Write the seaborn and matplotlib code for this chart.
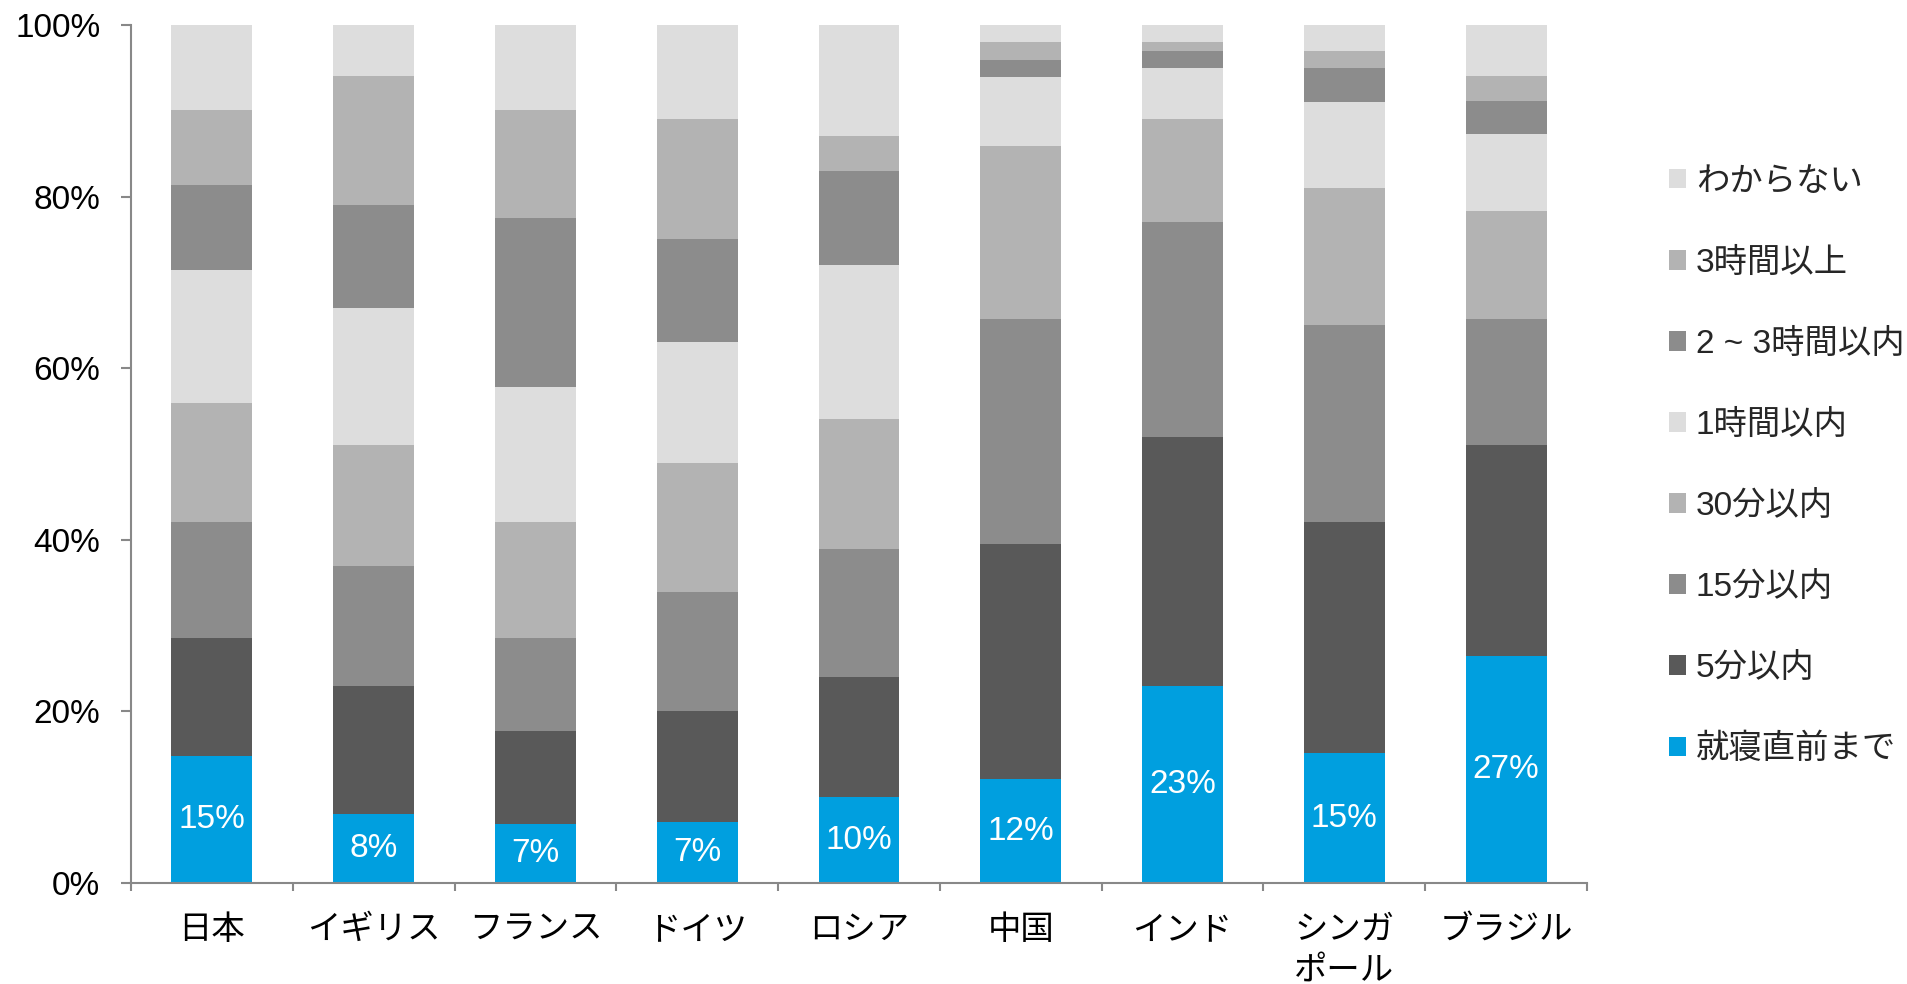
import numpy as np
import pandas as pd
import matplotlib
matplotlib.use("Agg")
import matplotlib.pyplot as plt
import seaborn as sns

countries = ['日本', 'イギリス', 'フランス', 'ドイツ', 'ロシア', '中国', 'インド', 'シンガ\nポール', 'ブラジル']
categories = ['就寝直前まで', '5分以内', '15分以内', '30分以内', '1時間以内', '2 ~ 3時間以内', '3時間以上', 'わからない']

s_before  = [14.8, 8.0, 6.9, 7.1, 10.0, 12.1, 23.0, 15.1, 26.5]
s_5min    = [13.7, 15.0, 10.8, 12.9, 14.0, 27.4, 29.0, 27.0, 24.5]
s_15min   = [13.6, 14.0, 10.8, 13.9, 14.9, 26.2, 25.0, 22.9, 14.7]
s_30min   = [13.8, 14.0, 13.6, 15.0, 15.2, 20.2, 12.0, 16.0, 12.6]
s_1h      = [15.6, 16.0, 15.7, 14.1, 17.9, 8.0, 6.0, 10.0, 9.0]
s_2_3h    = [9.8, 12.0, 19.7, 12.1, 11.0, 2.0, 2.0, 4.0, 3.8]
s_3h_plus = [8.8, 15.0, 12.6, 13.9, 4.1, 2.1, 1.0, 2.0, 3.0]
s_unknown = [9.9, 6.0, 9.9, 11.0, 12.9, 2.0, 2.0, 3.0, 5.9]

before_labels = ['15%', '8%', '7%', '7%', '10%', '12%', '23%', '15%', '27%']
ytick_labels = ['0%', '20%', '40%', '60%', '80%', '100%']

series = [s_before, s_5min, s_15min, s_30min, s_1h, s_2_3h, s_3h_plus, s_unknown]
colors = ['#009FDF', '#595959', '#8C8C8C', '#B3B3B3', '#DDDDDD', '#8C8C8C', '#B3B3B3', '#DDDDDD']

sns.set_theme(style="white")
plt.rcParams['font.family'] = ['Liberation Sans', 'Noto Sans CJK JP', 'DejaVu Sans']
FS = 24

fig = plt.figure(figsize=(19.08, 9.84), dpi=100)
ax = fig.add_axes([131 / 1908, 1 - 883 / 984, (1587 - 131) / 1908, (883 - 25) / 984])

bottom = np.zeros(len(countries))
for cat, vals, col in zip(categories, series, colors):
    sns.barplot(x=countries, y=vals, bottom=bottom, color=col, saturation=1,
                width=0.5, errorbar=None, label=cat, linewidth=0, ax=ax)
    bottom = bottom + np.array(vals)

ax.bar_label(ax.containers[0], labels=before_labels, label_type='center',
             color='white', fontsize=FS)

ax.set_ylim(0, 100)
ax.set_xlim(-0.5, len(countries) - 0.5)
ax.set_yticks([0, 20, 40, 60, 80, 100])
ax.set_yticklabels(ytick_labels)
ax.set_xticks(np.arange(-0.5, len(countries)), minor=True)

for s in ['top', 'right']:
    ax.spines[s].set_visible(False)
for s in ['left', 'bottom']:
    ax.spines[s].set_color('#888888')
    ax.spines[s].set_linewidth(1.5)

ax.tick_params(axis='y', which='major', length=7, width=1.5, color='#888888',
               pad=15, labelsize=FS, labelcolor='black', left=True)
ax.tick_params(axis='x', which='major', length=0, pad=23, labelsize=FS, labelcolor='black')
ax.tick_params(axis='x', which='minor', length=6, width=1.5, color='#888888', bottom=True)
for lab in ax.get_xticklabels():
    lab.set_linespacing(1.4)
    lab.set_verticalalignment('top')
ax.set_xlabel('')
ax.set_ylabel('')
ax.grid(False)

handles, labels = ax.get_legend_handles_labels()
ax.legend(handles[::-1], labels[::-1], loc='center left',
          bbox_to_anchor=(1669 / 1908, 1 - 466 / 984), bbox_transform=fig.transFigure,
          frameon=False, fontsize=FS, handlelength=0.51, handleheight=0.51,
          handletextpad=0.3, labelspacing=1.5, borderpad=0, borderaxespad=0)

fig.savefig('out.png', dpi=100, facecolor='white')
